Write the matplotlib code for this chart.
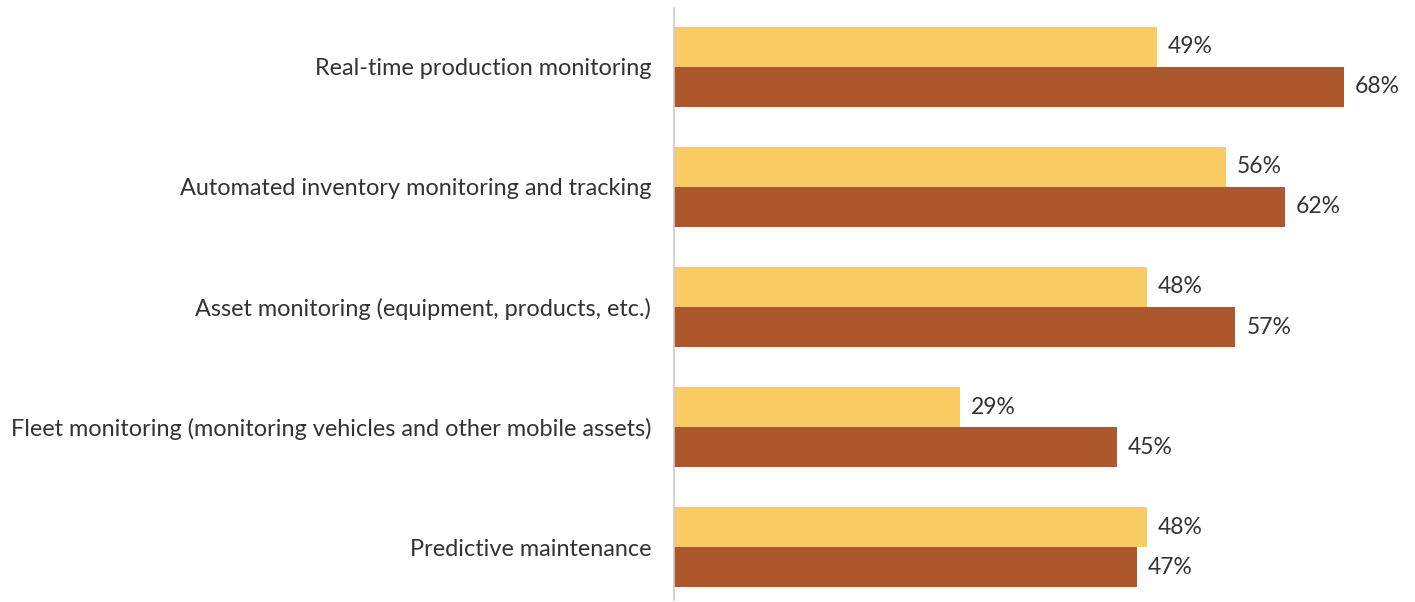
import matplotlib
matplotlib.use("Agg")
import matplotlib.pyplot as plt
import numpy as np

categories = [
    "Real-time production monitoring",
    "Automated inventory monitoring and tracking",
    "Asset monitoring (equipment, products, etc.)",
    "Fleet monitoring (monitoring vehicles and other mobile assets)",
    "Predictive maintenance",
]
series_a = [49, 56, 48, 29, 48]
series_b = [68, 62, 57, 45, 47]

plt.rcParams['font.family'] = ['Lato', 'DejaVu Sans']

fig = plt.figure(figsize=(14.15, 6.02), dpi=100)
ax = fig.add_axes([674 / 1415, 2 / 602, 1 - 674 / 1415, 592 / 602])

y = np.arange(len(categories))
h = 1 / 3
text_color = "#333333"
ax.barh(y - h / 2, series_a, height=h, color="#F9CC63")
ax.barh(y + h / 2, series_b, height=h, color="#AD582C")

for yi, a, b in zip(y, series_a, series_b):
    ax.text(a + 1.1, yi - h / 2, f"{a}%", va="center", ha="left", fontsize=16.5, color=text_color)
    ax.text(b + 1.1, yi + h / 2, f"{b}%", va="center", ha="left", fontsize=16.5, color=text_color)

ax.set_xlim(0, 741 / 9.85)
ax.set_ylim(4.44, -0.49)
ax.set_yticks(y)
ax.set_yticklabels(categories, fontsize=16.9, color=text_color)
ax.tick_params(axis="y", length=0, pad=16.5)
ax.set_xticks([])
for s in ["top", "right", "bottom"]:
    ax.spines[s].set_visible(False)
ax.spines["left"].set_color("#cccccc")
ax.spines["left"].set_linewidth(1.2)

fig.savefig("out.png", dpi=100)
